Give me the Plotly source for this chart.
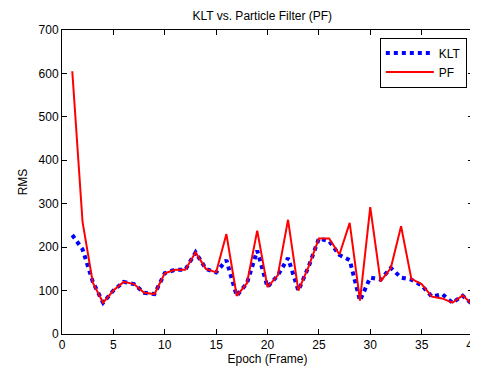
import plotly.graph_objects as go

epochs = list(range(1, 41))
klt = [228, 195, 120, 72, 100, 120, 115, 95, 92, 140,
       148, 148, 188, 150, 142, 170, 88, 117, 192, 108,
       135, 175, 100, 155, 220, 214, 182, 170, 77, 130,
       125, 152, 130, 125, 112, 86, 92, 72, 88, 67]
pf = [605, 258, 118, 72, 100, 120, 115, 95, 92, 140,
      148, 148, 188, 150, 142, 230, 88, 117, 238, 108,
      135, 263, 100, 155, 220, 220, 183, 256, 77, 292,
      121, 152, 248, 127, 115, 86, 82, 72, 89, 66]

x_ticks = [0, 5, 10, 15, 20, 25, 30, 35, 40]
y_ticks = [0, 100, 200, 300, 400, 500, 600, 700]

fig = go.Figure()
fig.add_trace(go.Scatter(x=epochs, y=klt, mode="lines", name="KLT",
                         line=dict(color="#0000ff", width=4, dash="dot")))
fig.add_trace(go.Scatter(x=epochs, y=pf, mode="lines", name="PF",
                         line=dict(color="#ff0000", width=2)))

axis_common = dict(showline=True, linecolor="#000000", linewidth=1, mirror="ticks",
                   ticks="inside", ticklen=5, tickcolor="#000000", showgrid=False,
                   zeroline=False, automargin=False, ticklabeloverflow="allow",
                   tickfont=dict(size=12, color="#000000"))

# the page body has an 8px margin, so the figure is sized/offset to compensate
fig.update_layout(
    width=470, height=367,
    margin=dict(l=54, r=5, t=22, b=41, autoexpand=False),
    paper_bgcolor="#ffffff", plot_bgcolor="#ffffff",
    font=dict(family="Liberation Sans, Arial, sans-serif", size=12, color="#000000"),
    title=dict(text="KLT vs. Particle Filter (PF)", x=0.541, xanchor="center",
               y=0.98, yanchor="middle", font=dict(size=12)),
    xaxis=dict(range=[0, 40], tickvals=x_ticks,
               title=dict(text="Epoch (Frame)", standoff=2, font=dict(size=12)),
               **axis_common),
    yaxis=dict(range=[0, 700], tickvals=y_ticks,
               title=dict(text="RMS", standoff=8, font=dict(size=12)),
               **axis_common),
    legend=dict(x=0.985, y=0.975, xanchor="right", yanchor="top",
                bgcolor="#ffffff", bordercolor="#000000", borderwidth=1,
                font=dict(size=12), tracegroupgap=0, itemwidth=48),
    showlegend=True,
)

fig.write_html("out.html")
